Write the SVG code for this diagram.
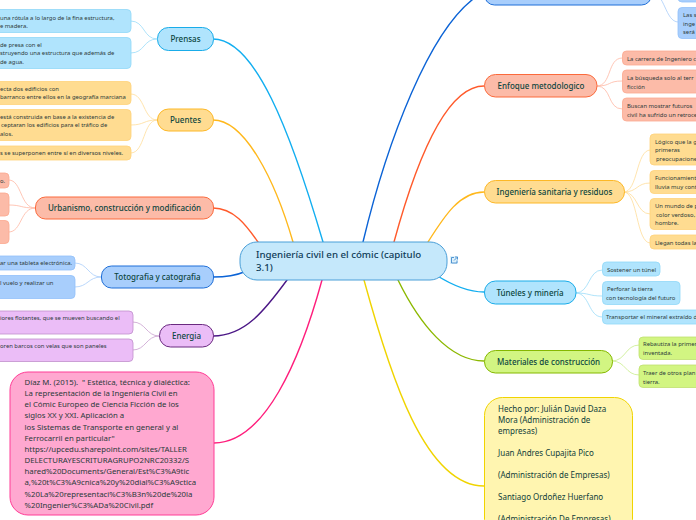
<svg xmlns="http://www.w3.org/2000/svg" width="696" height="520" viewBox="0 0 696 520">
<style>
text{font-family:"Noto Sans","Open Sans",sans-serif;fill:#17403f}
.m{font-size:8px;font-weight:500;text-anchor:middle;fill:#0c4640}
.l{font-size:5.9px;fill:#2c3a3a}
.b{font-size:8px;fill:#0f3d3a}
.c path{fill:none;stroke-linecap:round}
.t path{stroke-width:1.4}
.s path{stroke-width:.8}
</style>
<rect width="696" height="520" fill="#fff"/>
<g class="c" id="connectors">
<g class="t">
<path stroke="#12aef0" d="M213 39C255 39 290 130 323 242"/>
<path stroke="#ffb81c" d="M213 120C245 120 275 180 293 242"/>
<path stroke="#ff5a2b" d="M213 208C235 208 248 228 258 242"/>
<path stroke="#0b63d6" d="M213 277C225 277 235 276 244 272"/>
<path stroke="#4b1786" d="M213 336C245 336 265 310 287 280"/>
<path stroke="#ff1e7c" d="M214 443C265 443 300 360 322 280"/>
<path stroke="#f0d400" d="M484 486C425 486 390 375 364 280"/>
<path stroke="#8cb800" d="M484 361C450 361 420 325 398 280"/>
<path stroke="#12aef0" d="M484 292C470 292 455 287 436 275"/>
<path stroke="#ffb81c" d="M484 192C460 192 445 215 428 242"/>
<path stroke="#ff5a2b" d="M484 86C445 86 415 165 394 242"/>
<path stroke="#0b63d6" d="M484 -8C430 20 385 150 363 242"/>
</g>
<g class="s">
<path stroke="#9adcf9" d="M157 39C143 39 145 21 131 21M157 39C143 39 145 53 131 53"/>
<path stroke="#ffdd99" d="M157 120C143 120 145 94 131 94M157 120C143 120 145 125 131 125M157 120C143 120 145 153 131 153"/>
<path stroke="#ffb8a3" d="M35 208C20 208 22 180 9 180M35 208C20 208 22 205 9 205M35 208C20 208 22 232 9 232"/>
<path stroke="#a8cdfa" d="M101 277C88 277 88 263 75 263M101 277C88 277 88 287 75 287"/>
<path stroke="#c9a0cf" d="M159 336C146 336 146 322 133 322M159 336C146 336 146 350 133 350"/>
<path stroke="#ffb8a3" d="M597 86C612 86 607 58 622 58M597 86C612 86 607 81 622 81M597 86C612 86 607 109 622 109"/>
<path stroke="#ffdd99" d="M624 192C638 192 636 150 650 150M624 192C638 192 636 183 650 183M624 192C638 192 636 214 650 214M624 192C638 192 636 243 650 243"/>
<path stroke="#9adcf9" d="M576 293C590 293 588 270 602 270M576 293C590 293 588 296 602 296M576 293C590 293 588 317 602 317"/>
<path stroke="#c9ee8c" d="M612 361C626 361 625 345 639 345M612 361C626 361 625 375 639 375"/>
<path stroke="#a8cdfa" d="M651 -8C665 -8 665 22 678 22"/>
</g>
</g>
<g id="central"><rect x="240" y="242" width="207" height="38" rx="17" fill="#c5e8fb" stroke="#4a9fd8"/>
<text x="256" y="258" font-size="9.700" font-weight="500" style="fill:#0d3b57">Ingeniería civil en el cómic (capitulo</text>
<text x="256" y="271" font-size="9.700" font-weight="500" style="fill:#0d3b57">3.1)</text>
<g id="link-icon"><rect x="450" y="256" width="8" height="8" fill="#dff1fb"/><path fill="none" stroke="#2f7fc8" stroke-width=".8" d="M454 257.500h-2.500v5.500h5.500v-2.500M454 260.500l3-3M455 257h2.500v2.500"/></g></g>

<g id="n-prensas"><rect x="157.500" y="27.500" width="56" height="23" rx="11" fill="#b0e4fd" stroke="#19ace9"/><text class="m" x="185.500" y="41.500">Prensas</text>
<rect x="-10" y="9.500" width="141" height="23" rx="4" fill="#b0e4fd" stroke="#90d8f8" stroke-width=".8"/><text class="l"><tspan x="0" y="19.500">una rótula a lo largo de la fina estructura,</tspan><tspan x="0" y="28">e madera.</tspan></text>
<rect x="-10" y="37.500" width="141" height="31" rx="4" fill="#b0e4fd" stroke="#90d8f8" stroke-width=".8"/><text class="l"><tspan x="0" y="47">de presa con el</tspan><tspan x="0" y="55">struyendo una estructura que además de</tspan><tspan x="0" y="64">de agua.</tspan></text></g>

<g id="n-puentes"><rect x="157.500" y="109" width="56" height="22" rx="11" fill="#ffdc91" stroke="#fdb827"/><text class="m" x="185.500" y="123">Puentes</text>
<rect x="-10" y="81.500" width="141" height="23" rx="4" fill="#ffdc91" stroke="#ffd27a" stroke-width=".8"/><text class="l"><tspan x="0" y="91">ecta dos edificios con</tspan><tspan x="0" y="99">barranco entre ellos en la geografía marciana</tspan></text>
<rect x="-10" y="109.500" width="141" height="31" rx="4" fill="#ffdc91" stroke="#ffd27a" stroke-width=".8"/><text class="l"><tspan x="0" y="119">está construida en base a la existencia de</tspan><tspan x="1" y="127">ceptaran los  edificios para el tráfico de</tspan><tspan x="0" y="136">alos.</tspan></text>
<rect x="-10" y="146" width="141" height="14" rx="4" fill="#ffdc91" stroke="#ffd27a" stroke-width=".8"/><text class="l"><tspan x="0" y="155">s se  superponen entre sí en diversos niveles.</tspan></text></g>

<g id="n-urbanismo"><rect x="35.500" y="197" width="178" height="22" rx="10" fill="#fcbba8" stroke="#fb6a3c"/><text class="m" x="124.500" y="211">Urbanismo, construcción y modificación</text>
<rect x="-10" y="173" width="19" height="15" rx="4" fill="#fcbba8" stroke="#fba88f" stroke-width=".8"/><text class="l" x="0" y="182.500">o.</text>
<rect x="-10" y="193" width="19" height="23" rx="4" fill="#fcbba8" stroke="#fba88f" stroke-width=".8"/>
<rect x="-10" y="220.500" width="19" height="23" rx="4" fill="#fcbba8" stroke="#fba88f" stroke-width=".8"/></g>

<g id="n-totografia"><rect x="101.500" y="266" width="112" height="22" rx="10" fill="#a8cefc" stroke="#1f6fd8"/><text class="m" x="157.500" y="280">Totografia y catografia</text>
<rect x="-10" y="256" width="85" height="14" rx="4" fill="#a8cefc" stroke="#92c0fa" stroke-width=".8"/><text class="l" x="0" y="265">ar una tableta electrónica.</text>
<rect x="-10" y="275.500" width="85" height="23" rx="4" fill="#a8cefc" stroke="#92c0fa" stroke-width=".8"/><text class="l" x="0" y="285">l vuelo y realizar un</text></g>

<g id="n-energia"><rect x="159.500" y="324.500" width="54" height="22.500" rx="11" fill="#ebbdf7" stroke="#6a2a80"/><text class="m" x="186.500" y="339">Energia</text>
<rect x="-10" y="311" width="143" height="23" rx="4" fill="#ebbdf7" stroke="#c08fcc" stroke-width=".8"/><text class="l" x="0" y="320">iores flotantes, que se mueven buscando el</text>
<rect x="-10" y="339" width="143" height="22.500" rx="4" fill="#ebbdf7" stroke="#c08fcc" stroke-width=".8"/><text class="l" x="0" y="348">oren barcos con velas que son paneles</text></g>

<g id="n-referencia"><rect x="10" y="372" width="204" height="143" rx="18" fill="#ffa8d0" stroke="#ff3d96"/>
<text class="b" xml:space="preserve" style="font-size:7.800px;fill:#2a3a3a"><tspan x="24.500" y="385">Díaz M. (2015).  " Estética, técnica y dialéctica:</tspan><tspan x="24.500" y="396">La representación de la Ingeniería Civil en</tspan><tspan x="24.500" y="407">el Cómic Europeo de Ciencia Ficción de los</tspan><tspan x="24.500" y="418">siglos XX y XXI. Aplicación a</tspan><tspan x="24.500" y="430">los Sistemas de Transporte en general y al</tspan><tspan x="24.500" y="441">Ferrocarril en particular"</tspan><tspan x="24.500" y="452">https://upcedu.sharepoint.com/sites/TALLER</tspan><tspan x="24.500" y="463">DELECTURAYESCRITURAGRUPO2NRC20332/S</tspan><tspan x="24.500" y="474">hared%20Documents/General/Est%C3%A9tic</tspan><tspan x="24.500" y="485">a,%20t%C3%A9cnica%20y%20dial%C3%A9ctica</tspan><tspan x="24.500" y="497">%20La%20representaci%C3%B3n%20de%20la</tspan><tspan x="24.500" y="508">%20Ingenier%C3%ADa%20Civil.pdf</tspan></text></g>

<g id="n-top"><rect x="484.500" y="-20" width="167" height="25" rx="10" fill="#a8cefc" stroke="#1f6fd8"/>
<rect x="678" y="-10" width="30" height="12" rx="4" fill="#a8cefc" stroke="#92c0fa" stroke-width=".8"/>
<rect x="678" y="7.500" width="30" height="31" rx="4" fill="#a8cefc" stroke="#92c0fa" stroke-width=".8"/><text class="l"><tspan x="683" y="17">Las s</tspan><tspan x="683" y="26">inge</tspan><tspan x="683" y="34">será</tspan></text></g>

<g id="n-enfoque"><rect x="484.500" y="74.500" width="112.500" height="22.500" rx="11" fill="#fcbba8" stroke="#fb6a3c"/><text class="m" x="541" y="89">Enfoque metodologico</text>
<rect x="622.500" y="51" width="90" height="14" rx="4" fill="#fcbba8" stroke="#fba88f" stroke-width=".8"/><text class="l" x="627" y="61">La carrera de Ingeniero c</text>
<rect x="622.500" y="70" width="90" height="23" rx="4" fill="#fcbba8" stroke="#fba88f" stroke-width=".8"/><text class="l"><tspan x="627" y="80">La búsqueda solo al terr</tspan><tspan x="627" y="89">ficción</tspan></text>
<rect x="622.500" y="98" width="90" height="23" rx="4" fill="#fcbba8" stroke="#fba88f" stroke-width=".8"/><text class="l"><tspan x="627" y="108">Buscan mostrar futuros</tspan><tspan x="627" y="117">civil ha sufrido un retroce</tspan></text></g>

<g id="n-sanitaria"><rect x="484.500" y="180.500" width="140" height="22.500" rx="11" fill="#ffdc91" stroke="#fdb827"/><text class="m" x="554.500" y="195">Ingeniería sanitaria y residuos</text>
<rect x="650" y="134" width="60" height="31" rx="4" fill="#ffdc91" stroke="#ffd27a" stroke-width=".8"/><text class="l"><tspan x="655" y="144">Lógico que la g</tspan><tspan x="655" y="152">primeras</tspan><tspan x="656" y="161">preocupacione</tspan></text>
<rect x="650" y="170.500" width="60" height="23" rx="4" fill="#ffdc91" stroke="#ffd27a" stroke-width=".8"/><text class="l"><tspan x="655" y="180">Funcionamient</tspan><tspan x="655" y="189">lluvia muy cont</tspan></text>
<rect x="650" y="198.500" width="60" height="31" rx="4" fill="#ffdc91" stroke="#ffd27a" stroke-width=".8"/><text class="l"><tspan x="655" y="208">Un mundo de p</tspan><tspan x="656" y="217">color verdoso,</tspan><tspan x="655" y="225">hombre.</tspan></text>
<rect x="650" y="235" width="60" height="14" rx="4" fill="#ffdc91" stroke="#ffd27a" stroke-width=".8"/><text class="l" x="655" y="245">Llegan todas la</text></g>

<g id="n-tuneles"><rect x="484.500" y="281" width="91.500" height="23" rx="11" fill="#b0e4fd" stroke="#19ace9"/><text class="m" x="530" y="296">Túneles y minería</text>
<rect x="602.500" y="262" width="57.500" height="14" rx="4" fill="#b0e4fd" stroke="#90d8f8" stroke-width=".8"/><text class="l" x="607" y="272">Sostener un túnel</text>
<rect x="602.500" y="281.500" width="77.500" height="23" rx="4" fill="#b0e4fd" stroke="#90d8f8" stroke-width=".8"/><text class="l"><tspan x="607" y="291">Perforar la tierra</tspan><tspan x="606" y="300">con tecnología del futuro</tspan></text>
<rect x="602.500" y="310" width="110" height="14" rx="4" fill="#b0e4fd" stroke="#90d8f8" stroke-width=".8"/><text class="l" x="606" y="319">Transportar el mineral extraído d</text></g>

<g id="n-materiales"><rect x="484.500" y="350.500" width="128" height="22.500" rx="11" fill="#d2f582" stroke="#85b800"/><text class="m" x="548.500" y="365">Materiales de construcción</text>
<rect x="639" y="337" width="70" height="22.500" rx="4" fill="#d2f582" stroke="#bfe070" stroke-width=".8"/><text class="l"><tspan x="643" y="346">Rebautiza la primer</tspan><tspan x="643" y="355">inventada.</tspan></text>
<rect x="639" y="365" width="70" height="22.500" rx="4" fill="#d2f582" stroke="#bfe070" stroke-width=".8"/><text class="l"><tspan x="643" y="374.500">Traer de otros plan</tspan><tspan x="643" y="383.500">tierra.</tspan></text></g>

<g id="n-autores"><rect x="484.500" y="397.500" width="148" height="140" rx="18" fill="#fff5b0" stroke="#f0d400"/>
<text class="b"><tspan x="498" y="412">Hecho por: Julián David Daza</tspan><tspan x="498" y="423">Mora (Administración de</tspan><tspan x="498" y="434">empresas)</tspan><tspan x="498" y="456">Juan Andres Cupajita Pico</tspan><tspan x="498" y="478">(Administración de Empresas)</tspan><tspan x="498" y="500">Santiago Ordoñez Huerfano</tspan><tspan x="498" y="522">(Administración De Empresas)</tspan></text></g>
</svg>
